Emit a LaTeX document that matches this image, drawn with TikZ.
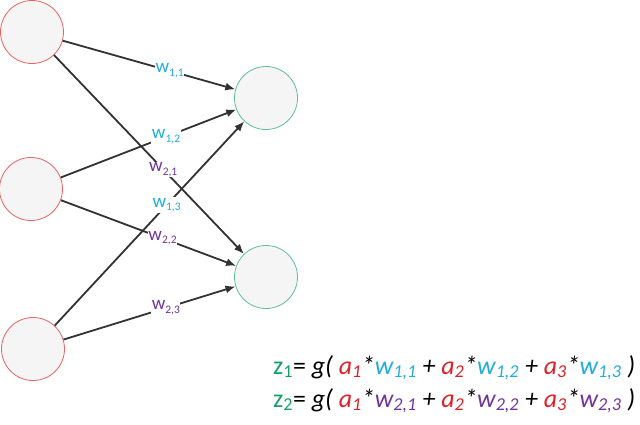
\documentclass[tikz,border=0pt]{standalone}
\usepackage{fontspec}
\setmainfont{Carlito}
\usetikzlibrary{arrows.meta}
\definecolor{inred}{RGB}{232,100,100}
\definecolor{outgreen}{RGB}{96,190,160}
\definecolor{wcyan}{RGB}{32,172,222}
\definecolor{wpurple}{RGB}{112,52,160}
\definecolor{ared}{RGB}{222,32,40}
\definecolor{zgreen}{RGB}{20,160,100}
\definecolor{edgegray}{RGB}{50,50,50}
\newcommand\lowidx[1]{\raisebox{-0.2em}{\fontsize{11.5}{11.5}\selectfont #1}}
\begin{document}
\begin{tikzpicture}[x=1pt,y=-1pt,>={Latex[length=10pt,width=8pt]},
 neu/.style={circle,draw,line width=0.8pt,fill=black!4,minimum size=63pt,inner sep=0pt},
 wt/.style={fill=white,inner sep=0.5pt,font=\fontsize{19}{19}\selectfont},
 eq/.style={anchor=base west,inner sep=0pt,font=\fontsize{25.9}{26}\selectfont}]

	\useasboundingbox (0,0) rectangle (640,424);

	\node[neu,draw=inred] (a1) at (32,32) {};
	\node[neu,draw=inred] (a2) at (31,189) {};
	\node[neu,draw=inred] (a3) at (33,349) {};
	\node[neu,draw=outgreen] (z1) at (266,98) {};
	\node[neu,draw=outgreen] (z2) at (266,277) {};

	\draw[->,edgegray,line width=1.8pt] (a1) -- node[wt,pos=0.62,text=wcyan] {w\lowidx{1,1}} (z1);
	\draw[->,edgegray,line width=1.8pt] (a2) -- node[wt,pos=0.60,text=wcyan] {w\lowidx{1,2}} (z1);
	\draw[->,edgegray,line width=1.8pt] (a3) -- node[wt,pos=0.59,text=wcyan] {w\lowidx{1,3}} (z1);
	\draw[->,edgegray,line width=1.8pt] (a1) -- node[wt,pos=0.575,text=wpurple] {w\lowidx{2,1}} (z2);
	\draw[->,edgegray,line width=1.8pt] (a2) -- node[wt,pos=0.58,text=wpurple] {w\lowidx{2,2}} (z2);
	\draw[->,edgegray,line width=1.8pt] (a3) -- node[wt,pos=0.595,text=wpurple] {w\lowidx{2,3}} (z2);

	\node[eq] (eq1) at (273,374) {\textcolor{zgreen}{z\textsubscript{1}}= \textit{g( \textcolor{ared}{a\textsubscript{1}}*\textcolor{wcyan}{w\textsubscript{1,1}} + \textcolor{ared}{a\textsubscript{2}}*\textcolor{wcyan}{w\textsubscript{1,2}} + \textcolor{ared}{a\textsubscript{3}}*\textcolor{wcyan}{w\textsubscript{1,3}} )}};
	\node[eq] (eq2) at (273,407) {\textcolor{zgreen}{z\textsubscript{2}}= \textit{g( \textcolor{ared}{a\textsubscript{1}}*\textcolor{wpurple}{w\textsubscript{2,1}} + \textcolor{ared}{a\textsubscript{2}}*\textcolor{wpurple}{w\textsubscript{2,2}} + \textcolor{ared}{a\textsubscript{3}}*\textcolor{wpurple}{w\textsubscript{2,3}} )}};
\end{tikzpicture}
\end{document}
